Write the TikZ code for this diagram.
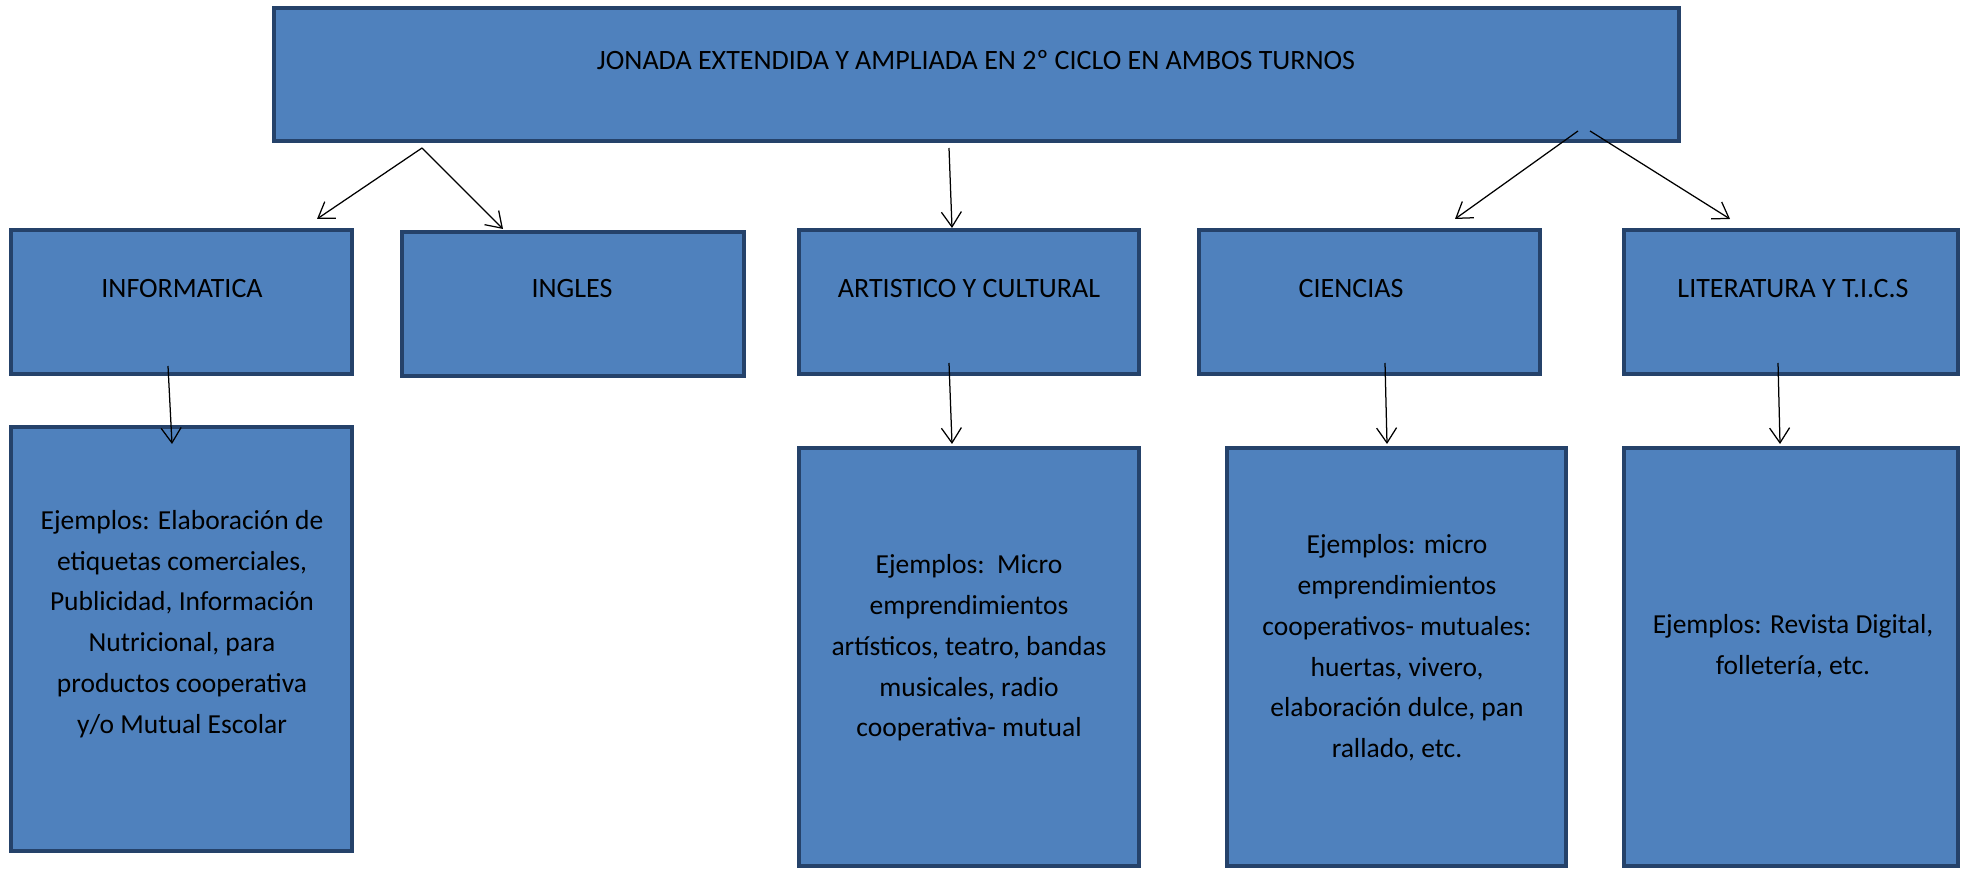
\documentclass[tikz,border=0pt]{standalone}
\usepackage{fontspec}
\setmainfont{Carlito}
\usepackage{tikz}
\usetikzlibrary{arrows.meta,arrows}
\usetikzlibrary{positioning}
\definecolor{boxfill}{HTML}{4F81BD}
\definecolor{boxline}{HTML}{25426A}

\begin{document}
\begin{tikzpicture}[x=0.4pt,y=-0.4pt]

        \useasboundingbox (0,0) rectangle (1963,870);

        \begin{scope}[every node/.style={rectangle,draw=boxline,fill=boxfill,line width=1.9pt,inner sep=0pt}]
            \node[minimum width=562pt,minimum height=53.2pt] (jornada) at (976.5,74.5) {};
            \node[minimum width=136.4pt,minimum height=57.6pt] (informatica) at (181.5,302) {};
            \node[minimum width=136.8pt,minimum height=57.6pt] (ingles) at (573,304) {};
            \node[minimum width=136pt,minimum height=57.6pt] (artistico) at (969,302) {};
            \node[minimum width=136.4pt,minimum height=57.6pt] (ciencias) at (1369.5,302) {};
            \node[minimum width=133.6pt,minimum height=57.6pt] (literatura) at (1791,302) {};
            \node[minimum width=136.4pt,minimum height=169.6pt] (infoej) at (181.5,639) {};
            \node[minimum width=136pt,minimum height=167.2pt] (artej) at (969,657) {};
            \node[minimum width=135.6pt,minimum height=167.2pt] (cienej) at (1396.5,657) {};
            \node[minimum width=133.6pt,minimum height=167.2pt] (litej) at (1791,657) {};
        \end{scope}

        \begin{scope}[every node/.style={align=center,inner sep=0pt,font=\fontsize{11.2}{16.3}\selectfont}]
            \node (tjornada) at (976,60) {JONADA EXTENDIDA Y AMPLIADA EN 2º CICLO EN AMBOS TURNOS};
            \node (tinformatica) at (182,289) {INFORMATICA};
            \node (tingles) at (572,289) {INGLES};
            \node (tartistico) at (969,289) {ARTISTICO Y CULTURAL};
            \node (tciencias) at (1351,289) {CIENCIAS};
            \node (tliteratura) at (1793,289) {LITERATURA Y T.I.C.S};
        \end{scope}

        \begin{scope}[every node/.style={align=center,inner sep=0pt,font=\fontsize{11}{16.3}\selectfont}]
            \node (tinfoej) at (182,624) {Ejemplos: Elaboración de\\etiquetas comerciales,\\Publicidad, Información\\Nutricional, para\\productos cooperativa\\y/o Mutual Escolar};
            \node (tartej) at (969,648) {Ejemplos:\ \ Micro\\emprendimientos\\artísticos, teatro, bandas\\musicales, radio\\cooperativa- mutual};
            \node (tcienej) at (1397,648) {Ejemplos: micro\\emprendimientos\\cooperativos- mutuales:\\huertas, vivero,\\elaboración dulce, pan\\rallado, etc.};
            \node (tlitej) at (1793,646) {Ejemplos: Revista Digital,\\folletería, etc.};
        \end{scope}

        \coordinate (f1) at (422,148);
        \coordinate (f2) at (949,148);
        \coordinate (f3) at (1578,131);
        \coordinate (f4) at (1590,131);
        \coordinate (a1) at (317,219);
        \coordinate (a2) at (503,229);
        \coordinate (a3) at (952,228);
        \coordinate (a4) at (1455,219);
        \coordinate (a5) at (1730,219);
        \coordinate (d1) at (168,366);
        \coordinate (d2) at (949,363);
        \coordinate (d3) at (1385,363);
        \coordinate (d4) at (1778,363);
        \coordinate (b1) at (172,444);
        \coordinate (b2) at (952,444);
        \coordinate (b3) at (1387,444);
        \coordinate (b4) at (1780,444);

        \begin{scope}[>={Straight Barb[black,length=6pt,width=8pt]},line width=0.5pt]
            \path [->] (f1) edge (a1);
            \path [->] (f1) edge (a2);
            \path [->] (f2) edge (a3);
            \path [->] (f3) edge (a4);
            \path [->] (f4) edge (a5);
            \path [->] (d1) edge (b1);
            \path [->] (d2) edge (b2);
            \path [->] (d3) edge (b3);
            \path [->] (d4) edge (b4);
        \end{scope}
    \end{tikzpicture}
\end{document}
